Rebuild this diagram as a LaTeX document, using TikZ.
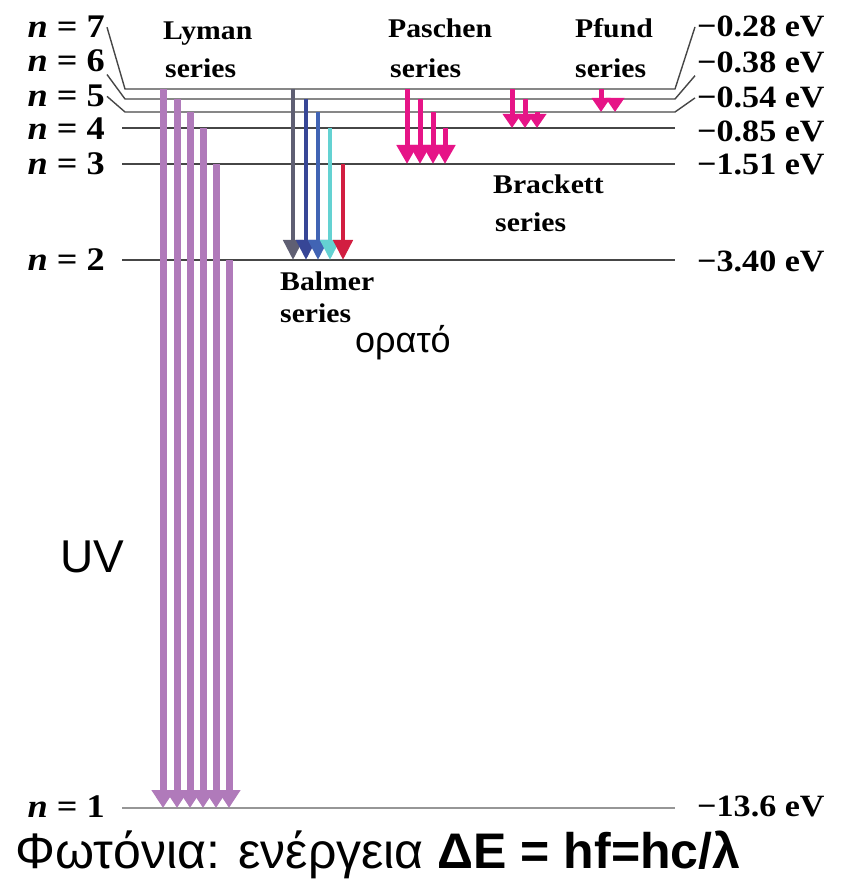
\documentclass[tikz,border=0pt]{standalone}
\usepackage{fontspec}
\setmainfont{Liberation Sans}
\newfontfamily\labfont[FakeStretch=1.1]{Liberation Serif}
\usetikzlibrary{arrows.meta,positioning}
\definecolor{levc}{RGB}{70,70,70}
\definecolor{lonec}{RGB}{150,150,150}
\definecolor{lymanc}{RGB}{176,122,186}
\definecolor{balg}{RGB}{95,95,115}
\definecolor{balbd}{RGB}{55,70,150}
\definecolor{balbl}{RGB}{65,100,180}
\definecolor{balc}{RGB}{100,210,210}
\definecolor{balr}{RGB}{210,30,65}
\definecolor{pinkc}{RGB}{230,20,135}

\begin{document}
\begin{tikzpicture}[x=1pt,y=-1pt,>=Stealth]
\tikzstyle{lvl}=[draw=levc,line width=1.4pt]
\tikzstyle{nl}=[font=\labfont\bfseries\fontsize{33}{36}\selectfont,anchor=base east,inner sep=2pt]
\tikzstyle{el}=[font=\labfont\bfseries\fontsize{31}{34}\selectfont,anchor=base west,inner sep=2pt]
\tikzstyle{S}=[font=\labfont\bfseries\fontsize{27}{30}\selectfont,anchor=base west,inner sep=0pt]
\tikzstyle{ly}=[line width=7pt,draw=lymanc,-{Triangle[width=22pt,length=18pt]}]
\tikzstyle{ba}=[line width=4.5pt,-{Triangle[width=19pt,length=20pt]}]
\tikzstyle{pa}=[line width=5pt,draw=pinkc,-{Triangle[width=20pt,length=19pt]}]
\tikzstyle{pb}=[line width=5pt,draw=pinkc,-{Triangle[width=18pt,length=14pt]}]
\useasboundingbox (0,0) rectangle (841,882);
\foreach \n/\y in {1/808,2/260,3/164,4/128} {\coordinate (L\n) at (122,\y); \coordinate (R\n) at (675,\y);}
\foreach \n/\y in {5/112,6/99,7/89} {\coordinate (L\n) at (125,\y); \coordinate (R\n) at (675,\y);}
\node[nl] (n7) at (107,38) {\textit{n} = 7};
\node[nl] (n6) at (107,72) {\textit{n} = 6};
\node[nl] (n5) at (107,107) {\textit{n} = 5};
\node[nl] (n4) at (107,140) {\textit{n} = 4};
\node[nl] (n3) at (107,175) {\textit{n} = 3};
\node[nl] (n2) at (107,270) {\textit{n} = 2};
\node[nl] (n1) at (107,817) {\textit{n} = 1};
\node[el] (e7) at (695,37) {−0.28 eV};
\node[el] (e6) at (695,73) {−0.38 eV};
\node[el] (e5) at (695,108) {−0.54 eV};
\node[el] (e4) at (695,142) {−0.85 eV};
\node[el] (e3) at (695,175) {−1.51 eV};
\node[el] (e2) at (695,272) {−3.40 eV};
\node[el] (e1) at (695,816) {−13.6 eV};
\draw[lvl] (n7.east) -- (L7) -- (R7) -- (e7.west);
\draw[lvl] (n6.south east) -- (L6) -- (R6) -- (e6.south west);
\draw[lvl] (n5.east) -- (L5) -- (R5) -- (e5.west);
\draw[lvl] (L4) -- (R4); \draw[lvl] (L3) -- (R3); \draw[lvl] (L2) -- (R2);
\draw[draw=lonec,line width=2pt] (L1) -- (R1);
\foreach \x/\n in {163/7,177/6,190/5,203/4,216/3,229/2} \draw[ly] (\x,0 |- L\n) -- (\x,0 |- L1);
\foreach \x/\n/\c in {293/7/balg,306/6/balbd,318/5/balbl,330/4/balc,343/3/balr} \draw[ba,draw=\c] (\x,0 |- L\n) -- (\x,0 |- L2);
\foreach \x/\n in {407/7,420/6,433/5,445/4} \draw[pa] (\x,0 |- L\n) -- (\x,0 |- L3);
\foreach \x/\n in {512/7,525/6,537/5} \draw[pb] (\x,0 |- L\n) -- (\x,0 |- L4);
\foreach \x/\n in {601/7,615/6} \draw[pb] (\x,0 |- L\n) -- (\x,0 |- L5);
\node[S] (lym) at (163,40) {Lyman}; \node[S] (lyms) at (165,78) {series};
\node[S] (pas) at (388,38) {Paschen}; \node[S] (pass) at (390,78) {series};
\node[S] (pf) at (575,38) {Pfund}; \node[S] (pfs) at (575,78) {series};
\node[S] (br) at (493,194) {Brackett}; \node[S] (brs) at (495,232) {series};
\node[S] (bal) at (280,290) {Balmer}; \node[S] (bals) at (280,322) {series};
\node[anchor=base west,inner sep=0pt,font=\fontsize{36}{40}\selectfont] (vis) at (355,352) {ορατό};
\node[anchor=base west,inner sep=0pt,font=\fontsize{46}{50}\selectfont] (uv) at (60,572) {UV};
\node[anchor=base west,inner sep=0pt,font=\fontsize{50}{54}\selectfont] (phot) at (15,868) {Φωτόνια: ενέργεια \textbf{ΔΕ = hf=hc/λ}};
\end{tikzpicture}
\end{document}
